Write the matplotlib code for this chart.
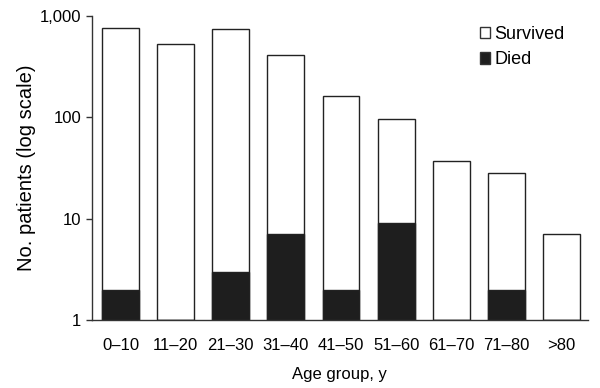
import matplotlib.pyplot as plt
from matplotlib.ticker import FuncFormatter, NullLocator
from matplotlib.patches import Patch

plt.rcParams['font.family'] = ['Liberation Sans', 'DejaVu Sans']

age_groups = ["0\u201310", "11\u201320", "21\u201330", "31\u201340", "41\u201350",
              "51\u201360", "61\u201370", "71\u201380", ">80"]
survived = [757, 525, 740, 412, 162, 97, 37, 28, 7]
died = [2, 0, 3, 7, 2, 9, 0, 2, 0]

fig = plt.figure(figsize=(6, 3.88), dpi=100)
ax = fig.add_axes([0.153, 0.175, 0.827, 0.784])

x = range(len(age_groups))
ax.bar(x, [s - 1 for s in survived], bottom=1, width=0.67, color="white",
       edgecolor="#222222", linewidth=1.0)
died_h = [d - 1 if d > 0 else 0 for d in died]
ax.bar(x, died_h, bottom=1, width=0.67, color="#1e1e1e",
       edgecolor="#222222", linewidth=1.0)

ax.set_yscale("log")
ax.set_ylim(1, 1000)
ax.set_xlim(-0.52, 8.48)
ax.set_yticks([1, 10, 100, 1000])
ax.yaxis.set_minor_locator(NullLocator())
ax.yaxis.set_major_formatter(FuncFormatter(lambda v, p: "{:,.0f}".format(v)))
ax.set_xticks(list(x))
ax.set_xticklabels(age_groups)
ax.tick_params(axis="x", length=0, labelsize=12, pad=13)
ax.tick_params(axis="y", length=4, width=1, labelsize=12, color="#333333")

for s in ["top", "right"]:
    ax.spines[s].set_visible(False)
for s in ["left", "bottom"]:
    ax.spines[s].set_color("#333333")
    ax.spines[s].set_linewidth(1.0)

ax.set_ylabel("No. patients (log scale)", fontsize=14.5, labelpad=3)
ax.set_xlabel("Age group, y", fontsize=12, labelpad=10)

handles = [Patch(facecolor="white", edgecolor="#333333", label="Survived"),
           Patch(facecolor="#1e1e1e", edgecolor="#333333", label="Died")]
ax.legend(handles=handles, loc="upper right", bbox_to_anchor=(0.985, 1.02),
          frameon=False, fontsize=13, handlelength=0.6, handleheight=0.6,
          handletextpad=0.2, labelspacing=0.45)

plt.savefig("out.png", dpi=100)
